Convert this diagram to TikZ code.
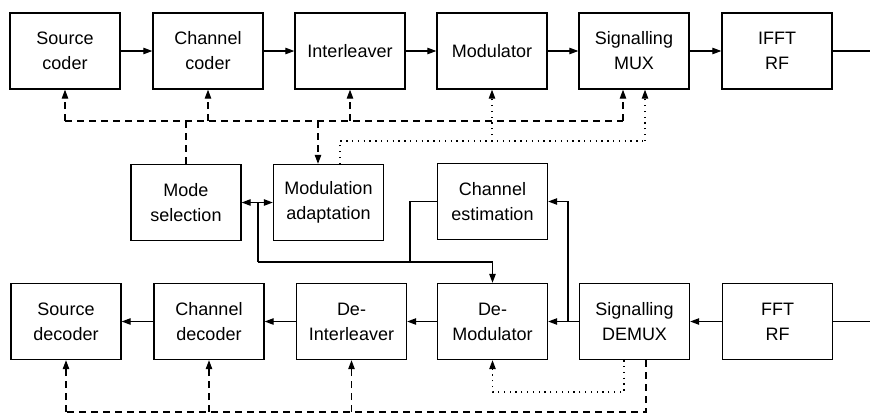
\documentclass[tikz,border=0pt]{standalone}
\usepackage{fontspec}
\setmainfont{Liberation Sans}
\usetikzlibrary{arrows.meta}
\begin{document}
\begin{tikzpicture}[x=1pt,y=-1pt,
  blk/.style={draw, line width=1.4pt, minimum width=110pt, minimum height=76pt, align=center, inner sep=0pt, font=\fontsize{18}{25}\selectfont},
  conn/.style={line width=1.1pt},
  tip/.tip={Triangle[length=9pt,width=6.5pt]},
  arr/.style={conn, -tip},
  dsh/.style={dash pattern=on 7pt off 5pt},
  dtt/.style={dash pattern=on 1.3pt off 4.5pt}]
\fill[white] (0,0) rectangle (870,416);
\useasboundingbox (0,0) rectangle (870,416);
% top row
\node[blk] (src)  at (65,51)  {Source\\coder};
\node[blk] (chc)  at (208,51) {Channel\\coder};
\node[blk] (intl) at (350,51) {Interleaver};
\node[blk] (mod)  at (492,51) {Modulator};
\node[blk] (mux)  at (634,51) {Signalling\\MUX};
\node[blk] (ifft) at (777,51) {IFFT\\RF};
% middle row
\node[blk] (mode)   at (186,202.5)   {Mode\\selection};
\node[blk] (madapt) at (328.5,202.5) {Modulation\\adaptation};
\node[blk] (chest)  at (492.5,201.5) {Channel\\estimation};
% bottom row
\node[blk] (sdec)  at (66,321.5)    {Source\\decoder};
\node[blk] (cdec)  at (209,321.5)   {Channel\\decoder};
\node[blk] (deint) at (351.5,321.5) {De-\\Interleaver};
\node[blk] (demod) at (492.5,321.5) {De-\\Modulator};
\node[blk] (demux) at (634.5,321.5) {Signalling\\DEMUX};
\node[blk] (fft)   at (777.5,321.5) {FFT\\RF};
% coordinates
\coordinate (outT) at (870,51);
\coordinate (outB) at (870,321.5);
\coordinate (dT) at (0,121);
\coordinate (dtT) at (0,141);
\coordinate (dtB) at (0,392);
\coordinate (dB) at (0,412);
\coordinate (muxA) at ([xshift=-11pt]mux.south);
\coordinate (muxB) at ([xshift=11pt]mux.south);
\coordinate (maA) at ([xshift=-10.5pt]madapt.north);
\coordinate (maB) at ([xshift=11.5pt]madapt.north);
\coordinate (dmA) at ([xshift=-10.5pt]demux.south);
\coordinate (dmB) at ([xshift=11.5pt]demux.south);
\coordinate (jce) at (568,321.5);
\coordinate (j1) at (258,262);
\coordinate (j2) at (410,262);
\coordinate (jm) at (258,202.5);
% top chain
\draw[arr] (src) -- (chc);
\draw[arr] (chc) -- (intl);
\draw[arr] (intl) -- (mod);
\draw[arr] (mod) -- (mux);
\draw[arr] (mux) -- (ifft);
\draw[conn] (ifft.east) -- (outT);
% bottom chain
\draw[conn] (outB) -- (fft.east);
\draw[arr] (fft) -- (demux);
\draw[arr] (demux) -- (demod);
\draw[arr] (demod) -- (deint);
\draw[arr] (deint) -- (cdec);
\draw[arr] (cdec) -- (sdec);
% channel estimation
\draw[arr] (jce) |- (chest.east);
\draw[conn] (chest.west) -| (j2);
\draw[arr] (j1) -| (demod.north);
\draw[conn] (j1) -- (jm);
\draw[conn, tip-tip] (mode.east) -- (madapt.west);
% top dashed
\draw[conn,dsh] (src.south |- dT) -- (muxA |- dT);
\draw[arr,dsh] (src.south |- dT) -- (src.south);
\draw[arr,dsh] (chc.south |- dT) -- (chc.south);
\draw[arr,dsh] (intl.south |- dT) -- (intl.south);
\draw[arr,dsh] (muxA |- dT) -- (muxA);
\draw[conn,dsh] (mode.north) -- (mode.north |- dT);
\draw[arr,dsh] (maA |- dT) -- (maA);
% top dotted
\draw[conn,dtt] (maB) -- (maB |- dtT) -- (muxB |- dtT);
\draw[arr,dtt] (muxB |- dtT) -- (muxB);
\draw[arr,dtt] (mod.south |- dtT) -- (mod.south);
% bottom dotted
\draw[arr,dtt] (dmA) -- (dmA |- dtB) -| (demod.south);
% bottom dashed
\draw[conn,dsh] (dmB) -- (dmB |- dB) -- (sdec.south |- dB);
\draw[arr,dsh] (sdec.south |- dB) -- (sdec.south);
\draw[arr,dsh] (cdec.south |- dB) -- (cdec.south);
\draw[arr,dsh] (deint.south |- dB) -- (deint.south);
\end{tikzpicture}
\end{document}
